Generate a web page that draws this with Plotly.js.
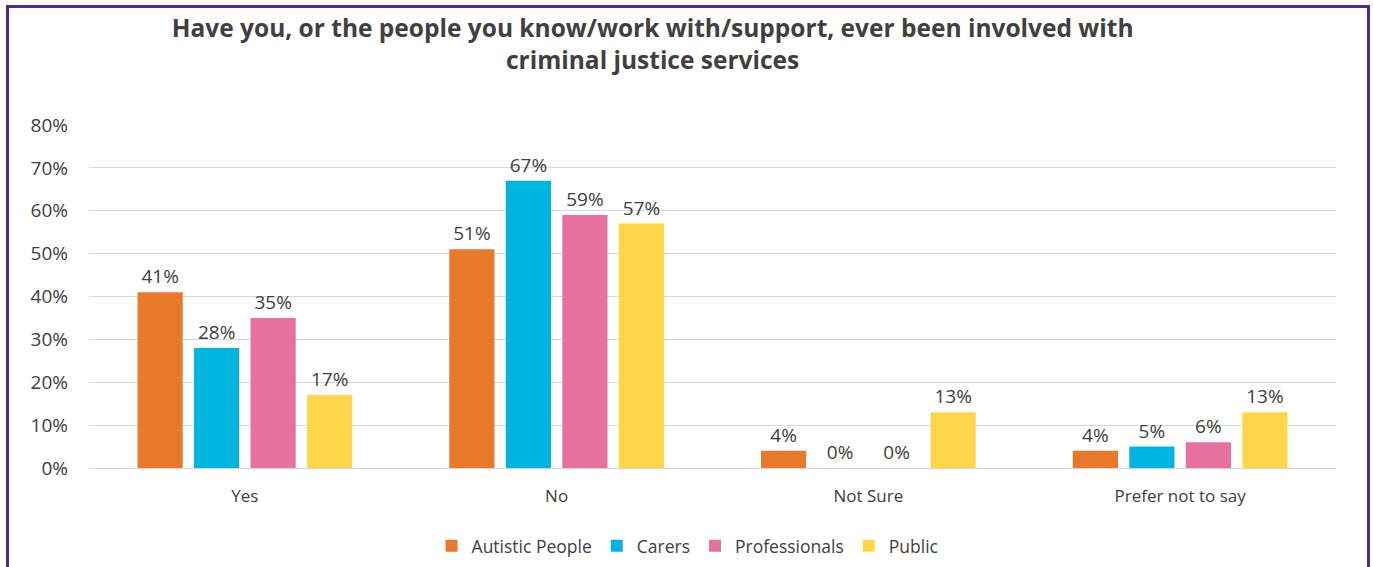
<!DOCTYPE html>
<html>
<head>
<meta charset="utf-8">
<script src="https://cdn.plot.ly/plotly-3.0.1.min.js"></script>
<style>
  html, body { margin: 0; padding: 0; background: #fff; }
  #chart { width: 1373px; height: 567px; position: absolute; left: 0; top: 0; }
  #frame { position: absolute; left: 6px; top: 5px; width: 1358px; height: 600px; border: 3px solid #4b2c8c; pointer-events: none; }
</style>
</head>
<body>
<div id="chart"></div>
<div id="frame"></div>
<script>
const categories = ["Yes", "No", "Not Sure", "Prefer not to say"];
const seriesNames = ["Autistic People", "Carers", "Professionals", "Public"];
const autistic = [0.41, 0.51, 0.04, 0.04];
const carers = [0.28, 0.67, 0.00, 0.05];
const professionals = [0.35, 0.59, 0.00, 0.06];
const publicVals = [0.17, 0.57, 0.13, 0.13];
const colors = ["#E8782A", "#00B4E0", "#E8719F", "#FFD54A"];
const yTickVals = [0, 0.1, 0.2, 0.3, 0.4, 0.5, 0.6, 0.7, 0.8];
const yTickText = ["0%", "10%", "20%", "30%", "40%", "50%", "60%", "70%", "80%"];

const FONT = "'Open Sans', Lato, sans-serif";
const allVals = [autistic, carers, professionals, publicVals];
const traces = allVals.map((vals, i) => ({
  type: "bar",
  name: seriesNames[i],
  x: categories,
  y: vals,
  marker: { color: colors[i] },
  texttemplate: "%{y:.0%}",
  textposition: "outside",
  textfont: { family: FONT, size: 19, color: "#404040" },
  cliponaxis: false,
  hoverinfo: "skip"
}));

const layout = {
  width: 1373, height: 567,
  paper_bgcolor: "#ffffff", plot_bgcolor: "#ffffff",
  margin: { l: 89, r: 37, t: 125, b: 99, autoexpand: false },
  barmode: "group",
  bargap: 0.275,
  bargroupgap: 0.2,
  title: {
    text: "Have you, or the people you know/work with/support, ever been involved with<br>criminal justice services",
    font: { family: FONT, size: 24.5, color: "#404040", weight: "bold" },
    x: 0.452, xanchor: "center", xref: "paper",
    y: 0.935, yanchor: "top", yref: "container"
  },
  xaxis: {
    type: "category",
    tickfont: { family: FONT, size: 17, color: "#404040" },
    showline: false, showgrid: false, zeroline: false,
    ticks: "", ticklabelstandoff: 16
  },
  yaxis: {
    range: [0, 0.8],
    tickvals: yTickVals, ticktext: yTickText,
    tickfont: { family: FONT, size: 19, color: "#404040" },
    showgrid: true, gridcolor: "#d9d9d9", gridwidth: 1,
    zeroline: true, zerolinecolor: "#d9d9d9", zerolinewidth: 1,
    showline: false, ticks: "", ticklabelstandoff: 20
  },
  legend: {
    orientation: "h",
    x: 0.48, xanchor: "center",
    y: -0.227, yanchor: "middle",
    font: { family: FONT, size: 17.5, color: "#404040" },
    itemwidth: 30,
    traceorder: "normal"
  },
  showlegend: true
};

Plotly.newPlot("chart", traces, layout, { staticPlot: true, displayModeBar: false });
</script>
</body>
</html>
